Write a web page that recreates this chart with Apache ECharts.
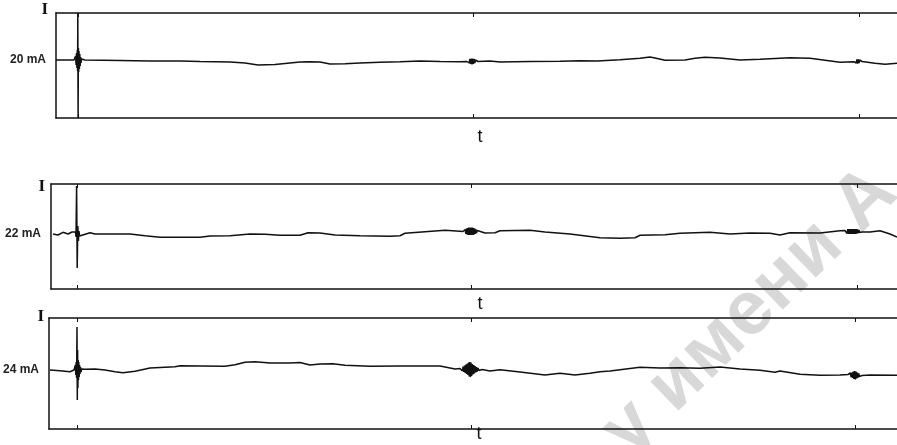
<!DOCTYPE html>
<html>
<head>
<meta charset="utf-8">
<script src="https://cdn.jsdelivr.net/npm/echarts@6/dist/echarts.min.js"></script>
<style>
html,body{margin:0;padding:0;background:#fff;}
#chart{width:897px;height:445px;}
</style>
</head>
<body>
<div id="chart"></div>
<script>
// Nominal currents of the three recordings (mA)
const baseCurrents = [20, 22, 24];
// Time marks (arbitrary time units) on each trace
const tickTimes20 = [0, 395, 781];
const tickTimes22 = [-1, 393, 779];
const tickTimes24 = [-1, 393, 777];

// [time, current mA] read from the recordings
const trace20 = [
  [-22,20.00],[-8,20.00],
  [-4,20.00],[-3.4,20.02],[-2.9,19.98],[-2.4,20.04],[-1.9,19.95],[-1.5,20.07],[-1.1,19.92],[-0.7,20.10],[-0.4,19.89],[-0.2,20.47],[0.1,19.42],[0.4,20.12],[0.7,19.88],[1.0,20.09],[1.4,19.91],[1.8,20.06],[2.2,19.94],[2.6,20.03],[3.0,19.97],[3.5,20.01],[4.2,20.00],
  [7,20.00],[42,19.995],[72,19.99],[102,19.99],[122,19.985],[152,19.98],[167,19.97],[180,19.95],[197,19.955],[212,19.97],
  [222,19.98],[232,19.983],[242,19.98],[252,19.96],[267,19.963],[282,19.97],[302,19.977],[322,19.983],[342,19.99],[362,19.985],[382,19.983],
  [389,19.985],[390.5,20.00],[391.2,19.97],[391.9,20.01],[392.6,19.96],[393.3,20.015],[394,19.955],[394.7,20.015],[395.4,19.96],[396.1,20.01],[396.8,19.97],[397.5,20.00],[398.5,19.98],[400,19.985],
  [412,19.99],[422,19.98],[452,19.985],[482,19.987],[502,19.993],[519,19.99],[542,20.003],[562,20.017],[572,20.03],[577,20.02],
  [587,19.997],[607,20.00],[617,20.017],[627,20.027],[642,20.02],[662,20.00],[682,20.007],[712,20.023],[732,20.017],[747,19.997],[762,19.977],
  [776,19.983],[777.5,20.00],[778.2,19.97],[778.9,20.005],[779.6,19.965],[780.3,20.005],[781,19.97],[781.7,20.00],[782.5,19.98],[784,19.985],
  [797,19.967],[807,19.957],[819,19.967]
];
const trace22 = [
  [-25,22.00],[-20,21.99],[-15,22.017],[-10,22.00],[-6,22.02],
  [-4,22.00],[-2.5,22.02],[-2,21.97],[-1.4,22.48],[-0.8,21.66],[-0.2,22.08],[0.4,21.93],[1,22.03],[1.6,21.98],[3,22.00],
  [12,22.013],[17,22.00],[22,22.00],[52,22.00],[67,21.983],[82,21.967],[102,21.967],[122,21.967],[132,21.98],[152,21.983],[172,22.00],[187,21.997],[202,21.987],
  [222,21.987],[230,22.013],[242,22.01],[257,21.99],[282,21.983],[312,21.977],[322,21.983],[327,22.007],[347,22.023],[367,22.037],[382,22.027],
  [385,22.025],[386,22.035],[386.6,22.01],[387.2,22.045],[387.8,22.00],[388.4,22.055],[389,21.995],[389.6,22.06],[390.2,21.99],[390.8,22.065],[391.4,21.99],[392,22.065],[392.6,21.99],[393.2,22.065],[393.8,21.99],[394.4,22.065],[395,21.99],[395.6,22.06],[396.2,21.995],[396.8,22.055],[397.4,22.00],[398,22.045],[398.6,22.01],[399.2,22.035],[400,22.02],[401,22.015],
  [407,22.01],[417,22.013],[422,22.033],[452,22.037],[467,22.02],[492,22.00],[522,21.963],[542,21.957],[557,21.963],[562,21.987],
  [587,21.993],[602,22.007],[632,22.017],[652,22.00],[672,22.01],[692,22.007],[702,21.99],[712,22.013],[742,22.01],
  [762,22.033],[767,22.035],[767.7,22.015],[768.4,22.045],[769.1,22.005],[769.8,22.05],[770.5,22.00],[771.2,22.05],[771.9,22.00],[772.6,22.05],[773.3,22.00],[774,22.05],[774.7,22.00],[775.4,22.05],[776.1,22.00],[776.8,22.05],[777.5,22.00],[778.2,22.05],[778.9,22.005],[779.6,22.045],[780.3,22.01],[781,22.04],[781.7,22.015],[782.5,22.035],[784,22.02],[786,22.02],
  [792,22.02],[802,22.033],[812,22.00],[819,21.97]
];
const trace24 = [
  [-28,24.00],[-18,23.993],[-8,23.983],
  [-4,24.00],[-3.5,24.02],[-3.0,23.98],[-2.6,24.05],[-2.2,23.95],[-1.8,24.08],[-1.4,23.92],[-1.0,24.43],[-0.7,23.70],[-0.4,24.20],[-0.1,23.82],[0.2,24.10],[0.5,23.90],[0.8,24.08],[1.2,23.93],[1.6,24.05],[2.0,23.96],[2.5,24.03],[3.0,23.98],[3.6,24.01],
  [7,24.007],[17,24.01],[27,24.00],[37,23.983],[45,23.973],[57,23.987],[72,24.02],[97,24.033],[102,24.043],[122,24.04],[147,24.037],
  [157,24.053],[167,24.077],[177,24.083],[192,24.07],[212,24.07],[222,24.075],[232,24.05],[242,24.06],[255,24.063],[267,24.047],
  [292,24.037],[322,24.04],[362,24.04],[377,24.01],
  [382,24.015],[383,24.00],[383.7,24.025],[384.4,23.99],[385.1,24.035],[385.8,23.98],[386.5,24.045],[387.2,23.97],[387.9,24.055],[388.6,23.96],[389.3,24.065],[390,23.95],[390.6,24.075],[391.2,23.935],[391.8,24.08],[392.4,23.93],[393,24.075],[393.6,23.94],[394.3,24.06],[395,23.955],[395.7,24.05],[396.4,23.965],[397.1,24.04],[397.8,23.975],[398.5,24.03],[399.2,23.985],[400,24.02],[401,23.995],[402.5,24.01],[404,24.005],
  [412,23.99],[422,24.003],[442,23.98],[467,23.95],[482,23.967],[497,23.95],[512,23.967],[522,23.983],[532,23.99],
  [562,24.027],[582,24.02],[602,24.023],[622,24.017],[642,24.03],[662,24.01],[682,23.997],[697,23.977],[702,23.99],[722,23.957],[742,23.947],[762,23.95],
  [770,23.955],[771,23.96],[771.7,23.94],[772.4,23.97],[773.1,23.93],[773.8,23.975],[774.5,23.92],[775.2,23.985],[775.9,23.91],[776.6,23.99],[777.3,23.905],[778,23.985],[778.7,23.915],[779.4,23.975],[780.1,23.925],[780.8,23.965],[781.5,23.935],[782.5,23.955],[784,23.945],
  [792,23.95],[819,23.947]
];
const traceNames = ['20 mA', '22 mA', '24 mA'];
const watermarkText = 'у имени А';

const INK = '#111';
const panels = [
  {trace: trace20, ticks: tickTimes20, base: baseCurrents[0], left: 56, top: 13, height: 105, yMin: 19.42, yMax: 20.47, tMin: -22, iPad: 8, iGap: 3, tGap: 19, tShift: 7},
  {trace: trace22, ticks: tickTimes22, base: baseCurrents[1], left: 51, top: 184, height: 105, yMin: 21.45, yMax: 22.50, tMin: -27, iPad: 6, iGap: -2.5, tGap: 15.5, tShift: 12},
  {trace: trace24, ticks: tickTimes24, base: baseCurrents[2], left: 49, top: 318, height: 111, yMin: 23.41, yMax: 24.52, tMin: -29, iPad: 5, iGap: 1.5, tGap: 5, tShift: 12}
];
const T_MAX = 819;

const grid = [], xAxis = [], yAxis = [], series = [];
panels.forEach((p, k) => {
  grid.push({left: p.left, right: 0, top: p.top, height: p.height, outerBoundsMode: 'none', containLabel: false});
  const common = {
    type: 'value', gridIndex: k, min: p.tMin, max: T_MAX,
    axisLine: {show: true, onZero: false, lineStyle: {color: INK, width: 1.5}},
    axisTick: {show: true, inside: true, length: 4, customValues: p.ticks, lineStyle: {color: INK, width: 1}},
    axisLabel: {show: false},
    splitLine: {show: false}
  };
  xAxis.push(Object.assign({}, common, {
    position: 'bottom',
    name: 't', nameLocation: 'middle', nameGap: p.tGap,
    nameTextStyle: {fontFamily: 'Liberation Sans', fontSize: 18, color: INK, verticalAlign: 'middle', align: 'center', padding: [0, 0, 0, p.tShift]}
  }));
  xAxis.push(Object.assign({}, common, {position: 'top'}));
  yAxis.push({
    type: 'value', gridIndex: k, min: p.yMin, max: p.yMax, position: 'left',
    name: 'I', nameLocation: 'end', nameGap: p.iGap,
    nameTextStyle: {fontFamily: 'Liberation Serif', fontSize: 17, fontWeight: 'bold', color: INK, align: 'right', verticalAlign: 'middle', padding: [0, p.iPad, 0, 0]},
    axisLine: {show: true, onZero: false, lineStyle: {color: INK, width: 1.5}},
    axisTick: {show: false},
    splitLine: {show: false},
    axisLabel: {show: true, customValues: [p.base], formatter: v => v + ' mA', margin: 10,
      fontFamily: 'Liberation Sans', fontSize: 12, fontWeight: 'bold', color: '#222'}
  });
  series.push({
    name: traceNames[k], type: 'line', xAxisIndex: k * 2, yAxisIndex: k,
    data: p.trace, showSymbol: false, symbol: 'none', smooth: false,
    lineStyle: {color: INK, width: 1.5}, z: 3
  });
});

const chart = echarts.init(document.getElementById('chart'), null, {renderer: 'canvas'});
chart.setOption({
  animation: false,
  backgroundColor: '#fff',
  grid, xAxis, yAxis, series,
  graphic: [{
    type: 'text', x: 750, y: 312, rotation: 0.77, z: -10, silent: true,
    style: {text: watermarkText, fill: '#d8d8d8', fontFamily: 'Liberation Sans', fontSize: 76, fontWeight: 'bold',
      textAlign: 'center', textVerticalAlign: 'middle', align: 'center', verticalAlign: 'middle'}
  }]
});
</script>
</body>
</html>
